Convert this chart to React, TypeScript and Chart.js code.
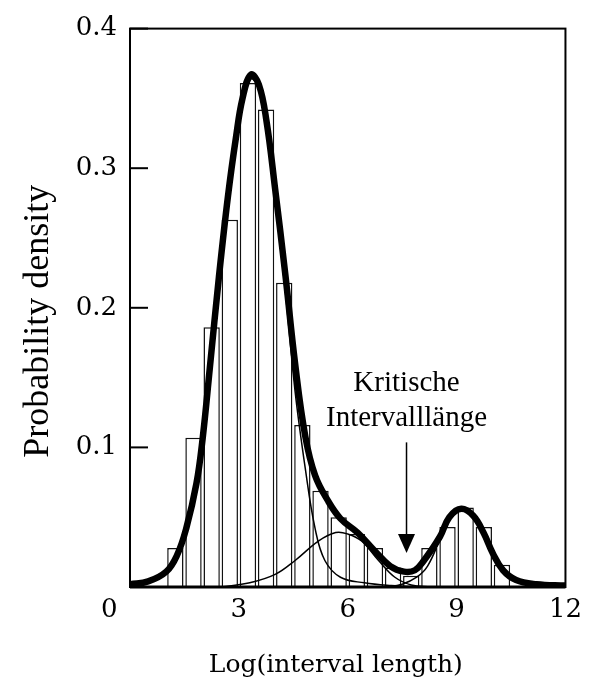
import React, { useEffect, useRef } from "react";
import { Chart, registerables } from "chart.js";

Chart.register(...registerables);

// Histogram bins (centre of each 0.5-wide bin) and their densities
const binCenters = [1.25, 1.75, 2.25, 2.75, 3.25, 3.75, 4.25, 4.75, 5.25, 5.75, 6.25, 6.75, 7.25, 7.75, 8.25, 8.75, 9.25, 9.75, 10.25];
const binHeights = [0.028, 0.107, 0.186, 0.263, 0.361, 0.342, 0.218, 0.116, 0.069, 0.05, 0.038, 0.028, 0.014, 0.008, 0.028, 0.043, 0.057, 0.043, 0.016];

// Total fitted density (thick curve)
const totalX = [0, 0.5, 1.0, 1.3, 1.55, 1.83, 2.0, 2.2, 2.45, 2.7, 2.92, 3.1, 3.33, 3.55, 3.76, 4.0, 4.28, 4.55, 4.83, 5.1, 5.45, 5.8, 6.27, 6.74, 7.17, 7.55, 7.85, 8.1, 8.54, 8.8, 9.13, 9.46, 9.74, 10.0, 10.28, 10.64, 11.2, 12];
const totalY = [0.002, 0.004, 0.011, 0.023, 0.042, 0.074, 0.106, 0.157, 0.222, 0.28, 0.322, 0.35, 0.367, 0.36, 0.334, 0.285, 0.224, 0.16, 0.108, 0.08, 0.062, 0.049, 0.039, 0.026, 0.015, 0.011, 0.012, 0.019, 0.036, 0.05, 0.056, 0.051, 0.039, 0.024, 0.012, 0.005, 0.002, 0.001];

// Component 1 (short intervals)
const comp1X = [0, 0.5, 1.0, 1.3, 1.55, 1.83, 2.0, 2.2, 2.45, 2.7, 2.92, 3.1, 3.33, 3.55, 3.76, 4.0, 4.28, 4.55, 4.83, 5.1, 5.37, 5.8, 6.46, 7.2, 8.0];
const comp1Y = [0.002, 0.004, 0.011, 0.023, 0.042, 0.074, 0.106, 0.157, 0.221, 0.279, 0.32, 0.348, 0.364, 0.356, 0.328, 0.277, 0.212, 0.14, 0.085, 0.042, 0.019, 0.007, 0.003, 0.001, 0];

// Component 2 (medium intervals)
const comp2X = [2.5, 3.3, 4.0, 4.55, 5.2, 5.67, 6.0, 6.38, 6.85, 7.3, 7.75, 8.3];
const comp2Y = [0, 0.003, 0.009, 0.019, 0.033, 0.039, 0.038, 0.033, 0.019, 0.007, 0.0015, 0];

// Component 3 (long intervals)
const comp3X = [7.0, 7.5, 7.9, 8.2, 8.54, 8.8, 9.13, 9.46, 9.74, 10.0, 10.28, 10.64, 11.2, 12];
const comp3Y = [0, 0.002, 0.007, 0.015, 0.034, 0.049, 0.056, 0.051, 0.039, 0.024, 0.012, 0.005, 0.001, 0];

const yTickValues = [0.1, 0.2, 0.3, 0.4];

// Annotation
const annotationLines = ["Kritische", "Intervalllänge"];
const annotationTextY = [0.1457, 0.1207];
const arrowX = 7.62;
const arrowTopY = 0.1036;
const arrowTipY = 0.0243;

const xTitle = "Log(interval length)";
const yTitle = "Probability density";

const toPts = (xs: number[], ys: number[]) => xs.map((x, i) => ({ x, y: ys[i] }));

const decorPlugin = {
  id: "decor",
  afterDatasetsDraw(chart: any) {
    const { ctx, chartArea, scales } = chart;
    const xs = scales.x;
    const ys = scales.y;
    ctx.save();
    ctx.strokeStyle = "#000";
    // frame
    ctx.lineWidth = 2;
    ctx.strokeRect(chartArea.left, chartArea.top, chartArea.right - chartArea.left, chartArea.bottom - chartArea.top);
    ctx.lineWidth = 3;
    ctx.beginPath();
    ctx.moveTo(chartArea.left, chartArea.bottom);
    ctx.lineTo(chartArea.right, chartArea.bottom);
    ctx.stroke();
    // inward y ticks
    ctx.lineWidth = 2;
    yTickValues.forEach((v) => {
      const py = ys.getPixelForValue(v);
      ctx.beginPath();
      ctx.moveTo(chartArea.left, py);
      ctx.lineTo(chartArea.left + 18, py);
      ctx.stroke();
    });
    // annotation text
    const ax = xs.getPixelForValue(arrowX);
    ctx.fillStyle = "#000";
    ctx.font = '29px "Liberation Serif"';
    ctx.textAlign = "center";
    ctx.textBaseline = "middle";
    annotationLines.forEach((t, i) => {
      ctx.fillText(t, ax, ys.getPixelForValue(annotationTextY[i]));
    });
    // arrow
    const top = ys.getPixelForValue(arrowTopY);
    const tip = ys.getPixelForValue(arrowTipY);
    ctx.lineWidth = 1.5;
    ctx.beginPath();
    ctx.moveTo(ax, top);
    ctx.lineTo(ax, tip - 16);
    ctx.stroke();
    ctx.beginPath();
    ctx.moveTo(ax - 8.5, tip - 19);
    ctx.lineTo(ax + 8.5, tip - 19);
    ctx.lineTo(ax, tip);
    ctx.closePath();
    ctx.fill();
    ctx.restore();
  },
};

const lineDs = (xs: number[], ys: number[], width: number, order: number) => ({
  type: "line",
  data: toPts(xs, ys),
  borderColor: "#000",
  borderWidth: width,
  pointRadius: 0,
  fill: false,
  tension: 0.4,
  order,
});

export default function App() {
  const ref = useRef<HTMLCanvasElement | null>(null);
  useEffect(() => {
    if (!ref.current) return;
    const chart = new Chart(ref.current, {
      type: "bar",
      data: {
        datasets: [
          lineDs(totalX, totalY, 6.5, 1) as any,
          lineDs(comp1X, comp1Y, 1.5, 2) as any,
          lineDs(comp2X, comp2Y, 1.5, 2) as any,
          lineDs(comp3X, comp3Y, 1.5, 2) as any,
          {
            type: "bar",
            data: toPts(binCenters, binHeights),
            backgroundColor: "#fff",
            borderColor: "#111",
            borderWidth: 1.5,
            barPercentage: 0.9,
            categoryPercentage: 1,
            order: 3,
          } as any,
        ],
      },
      options: {
        responsive: false,
        animation: false,
        layout: { padding: { left: 0, right: 21, top: 27, bottom: 0 } },
        plugins: { legend: { display: false }, tooltip: { enabled: false } },
        scales: {
          x: {
            type: "linear",
            min: 0,
            max: 12,
            offset: false,
            grid: { display: false, drawTicks: false },
            border: { display: false },
            ticks: {
              stepSize: 3,
              padding: 8,
              color: "#000",
              font: { family: "DejaVu Serif", size: 26 },
              callback: (v: any) => (v === 0 ? "0     " : String(v)),
            },
            title: {
              display: true,
              text: xTitle + "   ",
              color: "#000",
              font: { family: "DejaVu Serif", size: 25 },
              padding: { top: 0, bottom: 2 },
            },
            afterFit: (s: any) => {
              s.height = 95;
            },
          },
          y: {
            min: 0,
            max: 0.4,
            grid: { display: false, drawTicks: false },
            border: { display: false },
            ticks: {
              stepSize: 0.1,
              padding: 13,
              color: "#000",
              font: { family: "DejaVu Serif", size: 26 },
              callback: (v: any) => (Math.abs(v) < 1e-9 ? "" : Number(v).toFixed(1)),
            },
            title: {
              display: true,
              text: yTitle + "   ",
              color: "#000",
              font: { family: "Liberation Serif", size: 36 },
              padding: { top: 17, bottom: 0 },
            },
            afterFit: (s: any) => {
              s.width = 130;
            },
          },
        },
      } as any,
      plugins: [decorPlugin],
    });
    return () => chart.destroy();
  }, []);
  return (
    <div style={{ position: "absolute", left: 0, top: 0, width: 590, height: 682, background: "#fff" }}>
      <canvas ref={ref} width={590} height={682} style={{ display: "block" }} />
    </div>
  );
}
